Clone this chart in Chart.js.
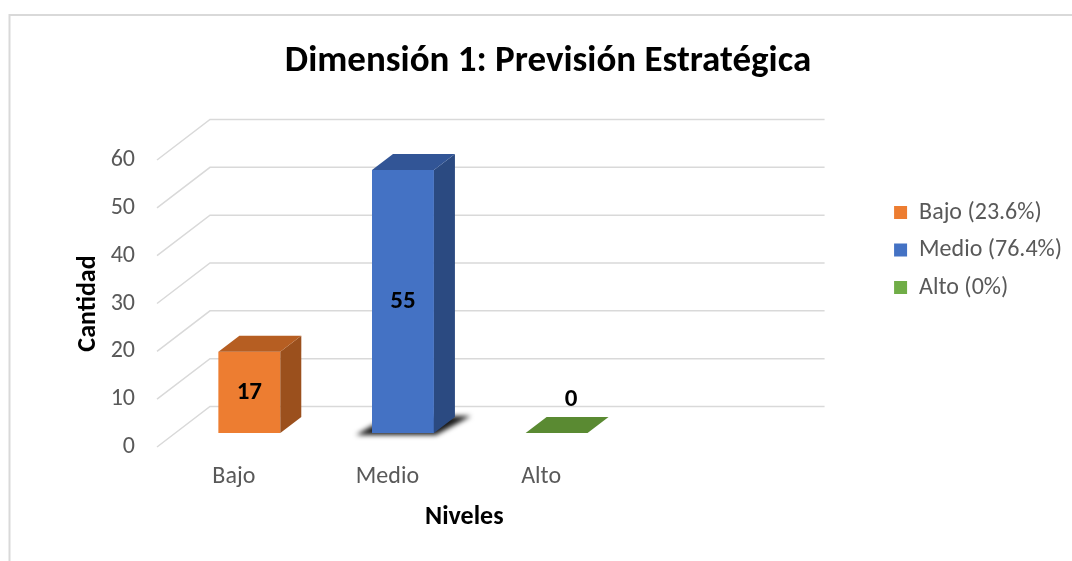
<!DOCTYPE html>
<html><head><meta charset="utf-8">
<script src="https://cdn.jsdelivr.net/npm/chart.js@4.4.0/dist/chart.umd.min.js"></script>
<style>html,body{margin:0;padding:0;background:#fff;overflow:hidden}</style>
</head><body>
<canvas id="c" width="1072" height="561"></canvas>
<script>
// ---- data ----
const chartTitle = 'Dimensión 1: Previsión Estratégica';
const categories = ['Bajo', 'Medio', 'Alto'];
const values = [17, 55, 0];
const legendLabels = ['Bajo (23.6%)', 'Medio (76.4%)', 'Alto (0%)'];
const yMin = 0, yMax = 60, yStep = 10;
const xTitle = 'Niveles';
const yTitle = 'Cantidad';

// ---- styles ----
const frontColors = ['#ED7D31', '#4472C4', '#70AD47'];
const topColors = ['#B65E22', '#325596', '#5A8A32'];
const sideColors = ['#9B501D', '#2B4A81', '#4C7A2A'];
const FONT = 'Carlito, Calibri, Lato, sans-serif';
const PLANE = {dx: 53, dy: -40.5};
const BAR_SHIFT = {dx: 15.5, dy: -14};
const BAR_DEPTH = {dx: 21, dy: -16};

const threeD = {
  id: 'threeD',
  beforeDraw(chart) {
    const ctx = chart.ctx;
    ctx.save();
    ctx.strokeStyle = '#D9D9D9';
    ctx.lineWidth = 2;
    ctx.beginPath();
    ctx.moveTo(9.5, chart.height + 5);
    ctx.lineTo(9.5, 15);
    ctx.lineTo(chart.width + 5, 15);
    ctx.stroke();
    ctx.restore();
  },
  beforeDatasetsDraw(chart) {
    const {ctx, chartArea: a} = chart;
    const y = chart.scales.y;
    ctx.save();
    ctx.strokeStyle = '#D9D9D9';
    ctx.lineWidth = 1.5;
    y.ticks.forEach(t => {
      const py = y.getPixelForValue(t.value);
      ctx.beginPath();
      ctx.moveTo(a.left, py);
      ctx.lineTo(a.left + PLANE.dx, py + PLANE.dy);
      ctx.lineTo(a.right + PLANE.dx, py + PLANE.dy);
      ctx.stroke();
    });
    ctx.restore();
    ctx.save();
    ctx.translate(BAR_SHIFT.dx, BAR_SHIFT.dy);
    // soft shadow under the tallest bar
    const meta = chart.getDatasetMeta(0);
    const bar = meta.data[1];
    if (bar) {
      const {x, base, width} = bar.getProps(['x', 'base', 'width'], true);
      const l = x - width / 2, r = x + width / 2;
      ctx.save();
      ctx.filter = 'blur(2.5px)';
      ctx.fillStyle = 'rgba(0,0,0,0.9)';
      ctx.beginPath();
      ctx.moveTo(l - 16, base + 2);
      ctx.lineTo(r + 2, base + 2);
      ctx.lineTo(r + BAR_DEPTH.dx + 16, base + BAR_DEPTH.dy - 1);
      ctx.lineTo(l + BAR_DEPTH.dx - 4, base + BAR_DEPTH.dy - 1);
      ctx.closePath();
      ctx.fill();
      ctx.restore();
    }
  },
  afterDatasetsDraw(chart) {
    const ctx = chart.ctx;
    const meta = chart.getDatasetMeta(0);
    meta.data.forEach((bar, i) => {
      const {x, y, base, width} = bar.getProps(['x', 'y', 'base', 'width'], true);
      const l = x - width / 2, r = x + width / 2;
      const dx = BAR_DEPTH.dx, dy = BAR_DEPTH.dy;
      ctx.fillStyle = sideColors[i];
      ctx.beginPath();
      ctx.moveTo(r, y); ctx.lineTo(r + dx, y + dy); ctx.lineTo(r + dx, base + dy); ctx.lineTo(r, base);
      ctx.closePath(); ctx.fill();
      ctx.fillStyle = topColors[i];
      ctx.beginPath();
      ctx.moveTo(l, y); ctx.lineTo(l + dx, y + dy); ctx.lineTo(r + dx, y + dy); ctx.lineTo(r, y);
      ctx.closePath(); ctx.fill();
      // value label
      const v = values[i];
      ctx.fillStyle = '#000';
      ctx.font = 'bold 25px ' + FONT;
      ctx.textAlign = 'center';
      ctx.textBaseline = 'middle';
      if (v > 0) ctx.fillText(String(v), x, (y + base) / 2);
      else ctx.fillText(String(v), x + 14.5, base - 33);
    });
    ctx.restore();
  }
};

new Chart(document.getElementById('c'), {
  type: 'bar',
  data: {
    labels: categories.concat(['']),
    datasets: [{
      data: values,
      backgroundColor: frontColors,
      borderWidth: 0,
      barPercentage: 0.403,
      categoryPercentage: 1,
      yAxisID: 'y'
    }]
  },
  options: {
    responsive: false,
    animation: false,
    events: [],
    layout: {padding: {left: 24, right: 0, top: 0, bottom: 10}},
    plugins: {
      tooltip: {enabled: false},
      title: {
        display: true, text: chartTitle, color: '#000',
        font: {family: FONT, size: 37, weight: 'bold'},
        padding: {top: 39.3, bottom: 76.3}
      },
      legend: {
        position: 'right', align: 'start', fullSize: false, maxWidth: 320,
        title: {display: true, text: '', font: {size: 10}, padding: {top: 15, bottom: 0}},
        labels: {
          boxWidth: 13, boxHeight: 13, padding: 13.5, color: '#595959',
          font: {family: FONT, size: 24},
          generateLabels: () => legendLabels.map((t, i) => ({
            text: t, fillStyle: frontColors[i], strokeStyle: frontColors[i],
            lineWidth: 0, hidden: false, index: i, fontColor: '#595959'
          }))
        }
      }
    },
    scales: {
      x: {
        grid: {display: false, drawTicks: false},
        border: {display: false},
        ticks: {color: '#595959', font: {family: FONT, size: 24}, padding: 16, maxRotation: 0},
        title: {display: true, text: xTitle, color: '#000', font: {family: FONT, size: 26, weight: 'bold'}, padding: {top: 0, bottom: 18.4}},
        afterFit(s) { s.height = 104; }
      },
      y: {
        min: yMin, max: yMax,
        grid: {display: false, drawTicks: false},
        border: {display: false},
        ticks: {stepSize: yStep, color: '#595959', font: {family: FONT, size: 24}, padding: 22},
        title: {display: true, text: yTitle, color: '#000', font: {family: FONT, size: 26, weight: 'bold'}, padding: {top: 48.4, bottom: 0}},
        afterFit(s) { s.width = 133; }
      },
      yR: {
        position: 'right', display: true,
        grid: {display: false, drawTicks: false},
        border: {display: false},
        ticks: {display: false},
        afterFit(s) { s.width = 109; }
      }
    }
  },
  plugins: [threeD]
});
</script>
</body></html>
